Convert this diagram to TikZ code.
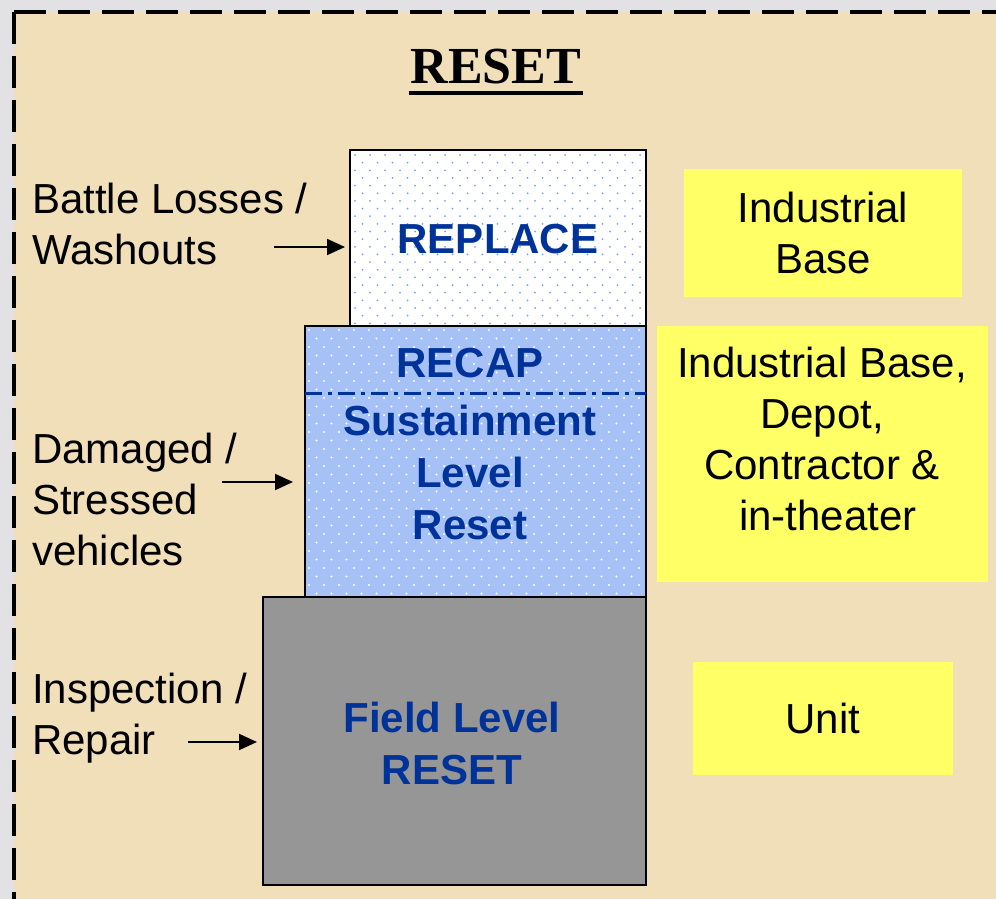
\documentclass[tikz,border=0pt]{standalone}
\usepackage{fontspec}
\setmainfont{Liberation Serif}
\newfontfamily\arialf{Liberation Sans}
\usetikzlibrary{arrows.meta}
\definecolor{outergray}{RGB}{226,226,228}
\definecolor{parch}{RGB}{240,223,184}
\definecolor{navy}{RGB}{0,51,153}
\definecolor{dotblue}{RGB}{120,160,240}
\definecolor{recapblue}{RGB}{166,193,245}
\definecolor{fieldgray}{RGB}{150,150,150}
\definecolor{yel}{RGB}{255,255,102}
\begin{document}
\begin{tikzpicture}[x=1pt,y=-1pt,
  stage/.style={inner sep=0pt, outer sep=0pt, anchor=north west},
  stageborder/.style={draw=black, line width=2pt},
  bluetxt/.style={font={\arialf\bfseries\fontsize{42}{52}\selectfont}, text=navy, align=center, inner sep=0pt},
  lbl/.style={font={\arialf\fontsize{42}{51}\selectfont}, align=left, inner sep=0pt, anchor=west},
  ybox/.style={fill=yel, inner sep=0pt, outer sep=0pt, anchor=north west},
  ytxt/.style={font={\arialf\fontsize{42}{51}\selectfont}, align=center, inner sep=0pt},
  arr/.style={line width=2pt, -{Triangle[length=18pt,width=16pt]}},
  border/.style={line width=4pt, dash pattern=on 32pt off 12pt}
]
\useasboundingbox (0,0) rectangle (996,899);
\fill[outergray] (0,0) rectangle (996,899);
\fill[parch] (14,12) rectangle (996,899);
\draw[border] (14,12) -- (996,12);
\draw[border] (14,12) -- (14,899);

% title
\node[font={\bfseries\fontsize{52}{60}\selectfont}, inner xsep=2pt, inner ysep=0pt, anchor=base] (title) at (496,84) {RESET};
\draw[line width=4pt] ([yshift=-9pt]title.base west) -- ([yshift=-9pt]title.base east);

% field level box
\node[stage, fill=fieldgray, minimum width=383pt, minimum height=288pt] (field) at (263,597) {};
\draw[stageborder] (field.north west) rectangle (field.south east);

% recap box
\node[stage, fill=recapblue, minimum width=341pt, minimum height=271pt] (recap) at (305,326) {};
\begin{scope}
  \clip (recap.north west) rectangle (recap.south east);
  \foreach \i in {0,...,31} \foreach \j in {0,...,23}
    \fill[white] ({309+15*\j+7.5*mod(\i,2)}, {330+8.5*\i}) circle (1.1pt);
\end{scope}
\draw[stageborder] (recap.north west) rectangle (recap.south east);

% replace box
\node[stage, fill=white, minimum width=296pt, minimum height=176pt] (replace) at (350,150) {};
\begin{scope}
  \clip (replace.north west) rectangle (replace.south east);
  \foreach \i in {0,...,23} \foreach \j in {0,...,20}
    \fill[dotblue] ({355+15*\j+7.5*mod(\i,2)}, {155+7.65*\i}) circle (1pt);
\end{scope}
\draw[stageborder] (replace.north west) rectangle (replace.south east);

% dash-dot separator
\coordinate (dl) at (305,393);
\draw[navy, line width=3pt, dash pattern=on 17pt off 6pt on 4pt off 6pt] (dl) -- (recap.east |- dl);

% blue texts
\node[bluetxt] (replaceT) at (498,239) {REPLACE};
\node[bluetxt] (recapT) at (470,363) {RECAP};
\node[bluetxt] (sustT) at (470,472) {Sustainment\\Level\\Reset};
\node[bluetxt] (fieldT) at (452,743) {Field Level\\RESET};

% yellow boxes
\node[ybox, minimum width=278pt, minimum height=128pt] (yb1) at (684,169) {};
\node[ytxt] (yt1) at (yb1.center) {Industrial\\Base};
\node[ybox, minimum width=331pt, minimum height=256pt] (yb2) at (657,326) {};
\node[ytxt] (yt2) at (822,439) {Industrial Base,\\Depot,\\Contractor \&\\\ in-theater};
\node[ybox, minimum width=260pt, minimum height=113pt] (yb3) at (693,662) {};
\node[ytxt] (yt3) at (yb3.center) {Unit};

% left labels
\node[lbl] (battle) at (32,224) {Battle Losses /\\Washouts};
\node[lbl] (damaged) at (32,499) {Damaged /\\Stressed\\vehicles};
\node[lbl] (insp) at (32,718) {Inspection /\\Repair};

% arrows
\coordinate (a1) at (274,247);
\draw[arr, shorten >=5pt] (a1) -- (replace.west |- a1);
\coordinate (a2) at (222,482);
\draw[arr, shorten >=12pt] (a2) -- (recap.west |- a2);
\coordinate (a3) at (188,742);
\draw[arr, shorten >=6pt] (a3) -- (field.west |- a3);
\end{tikzpicture}
\end{document}
